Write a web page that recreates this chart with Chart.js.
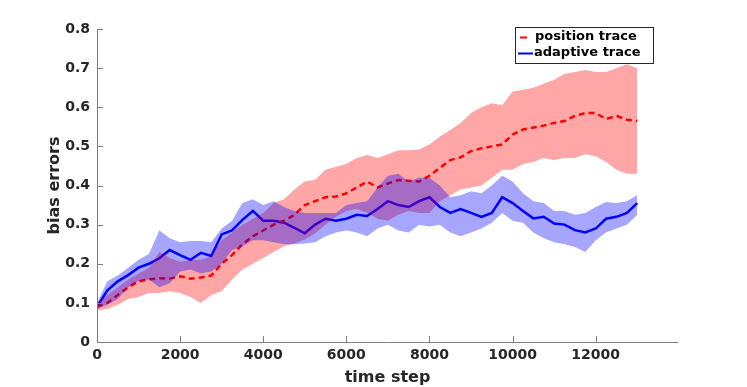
<!DOCTYPE html>
<html><head><meta charset="utf-8">
<script src="https://cdn.jsdelivr.net/npm/chart.js@4"></script>
<style>html,body{margin:0;padding:0;background:#fff;}#c{display:block;}</style>
</head><body>
<canvas id="c" width="747" height="387"></canvas>
<script>
const steps = [];
for (let i = 0; i <= 52; i++) steps.push(i * 250);

const adaptiveMean = [0.09,0.132,0.155,0.171,0.19,0.2,0.214,0.235,0.222,0.21,0.228,0.22,0.275,0.285,0.312,0.335,0.31,0.31,0.305,0.292,0.278,0.3,0.315,0.31,0.315,0.325,0.322,0.34,0.36,0.35,0.345,0.36,0.37,0.345,0.33,0.34,0.33,0.32,0.33,0.37,0.355,0.335,0.316,0.32,0.303,0.3,0.286,0.28,0.29,0.315,0.32,0.33,0.355];
const adaptiveUpper = [0.1,0.155,0.17,0.19,0.21,0.225,0.285,0.265,0.255,0.258,0.258,0.255,0.29,0.31,0.355,0.365,0.35,0.36,0.345,0.335,0.33,0.33,0.33,0.33,0.35,0.355,0.36,0.395,0.425,0.43,0.41,0.42,0.42,0.4,0.37,0.375,0.385,0.38,0.4,0.425,0.41,0.38,0.36,0.355,0.335,0.335,0.325,0.33,0.345,0.358,0.355,0.36,0.376];
const adaptiveLower = [0.085,0.095,0.11,0.14,0.155,0.16,0.14,0.15,0.18,0.185,0.175,0.18,0.2,0.235,0.245,0.26,0.26,0.255,0.25,0.25,0.252,0.255,0.27,0.28,0.285,0.28,0.27,0.29,0.3,0.285,0.28,0.3,0.295,0.3,0.28,0.27,0.28,0.29,0.305,0.33,0.31,0.305,0.28,0.265,0.255,0.25,0.243,0.23,0.26,0.28,0.29,0.3,0.325];

const positionMean = [0.09,0.1,0.12,0.14,0.155,0.16,0.163,0.162,0.168,0.162,0.165,0.17,0.2,0.222,0.25,0.27,0.285,0.3,0.31,0.325,0.35,0.36,0.37,0.372,0.38,0.395,0.41,0.395,0.405,0.414,0.412,0.41,0.425,0.445,0.465,0.472,0.488,0.495,0.5,0.505,0.53,0.543,0.548,0.553,0.56,0.565,0.578,0.585,0.585,0.57,0.578,0.568,0.565];
const positionUpper = [0.1,0.12,0.14,0.16,0.175,0.19,0.23,0.215,0.205,0.21,0.21,0.22,0.26,0.28,0.3,0.315,0.33,0.355,0.365,0.39,0.41,0.415,0.44,0.448,0.455,0.47,0.478,0.47,0.48,0.49,0.49,0.492,0.505,0.525,0.542,0.56,0.585,0.6,0.61,0.605,0.64,0.645,0.65,0.66,0.67,0.685,0.69,0.695,0.69,0.69,0.7,0.71,0.7];
const positionLower = [0.08,0.085,0.095,0.11,0.115,0.125,0.125,0.13,0.125,0.115,0.1,0.12,0.13,0.16,0.185,0.2,0.215,0.23,0.245,0.252,0.262,0.278,0.3,0.32,0.335,0.34,0.33,0.315,0.31,0.325,0.335,0.33,0.33,0.36,0.375,0.39,0.395,0.4,0.42,0.44,0.44,0.455,0.46,0.47,0.465,0.47,0.47,0.48,0.475,0.46,0.44,0.43,0.43];

const xTicks = [0,2000,4000,6000,8000,10000,12000];
const yTicks = [0,0.1,0.2,0.3,0.4,0.5,0.6,0.7,0.8];
const legendLabels = ['position trace','adaptive trace'];
const xTitle = 'time step';
const yTitle = 'bias errors';

const pts = arr => arr.map((v,i)=>({x:steps[i], y:v}));
const TXT = '#262626';
const AX = '#7f7f7f';
const FONT = "'DejaVu Sans', sans-serif";

const insideTicks = {
  id:'insideTicks',
  afterDraw(chart){
    const ctx = chart.ctx, a = chart.chartArea;
    const xs = chart.scales.x, ys = chart.scales.y;
    ctx.save();
    ctx.strokeStyle = AX; ctx.lineWidth = 1;
    ctx.beginPath();
    ctx.moveTo(a.left+0.5, a.top); ctx.lineTo(a.left+0.5, a.bottom+0.5);
    ctx.lineTo(a.right, a.bottom+0.5);
    xTicks.forEach(t=>{const p=Math.round(xs.getPixelForValue(t))+0.5; ctx.moveTo(p,a.bottom); ctx.lineTo(p,a.bottom-6);});
    yTicks.forEach(t=>{const p=Math.round(ys.getPixelForValue(t))+0.5; ctx.moveTo(a.left,p); ctx.lineTo(a.left+6,p);});
    ctx.stroke();
    // legend
    const bx=515, by=27, bw=138, bh=36;
    ctx.fillStyle='#fff'; ctx.fillRect(bx,by,bw,bh);
    ctx.strokeStyle='#262626'; ctx.lineWidth=1; ctx.strokeRect(bx+0.5,by+0.5,bw,bh);
    ctx.lineWidth=2;
    ctx.strokeStyle='#ff0000'; ctx.beginPath(); ctx.moveTo(520,37.5); ctx.lineTo(527,37.5); ctx.stroke();
    ctx.strokeStyle='#0000ff'; ctx.beginPath(); ctx.moveTo(518,53.5); ctx.lineTo(533,53.5); ctx.stroke();
    ctx.fillStyle='#000'; ctx.font="bold 13px "+FONT; ctx.textBaseline='middle'; ctx.textAlign='left';
    ctx.fillText(legendLabels[0],535,37);
    ctx.fillText(legendLabels[1],534,53);
    ctx.restore();
  }
};

new Chart(document.getElementById('c'), {
  type:'line',
  data:{datasets:[
    {data:pts(adaptiveLower), borderWidth:0, pointRadius:0, fill:false, borderColor:'rgba(0,0,0,0)'},
    {data:pts(adaptiveUpper), borderWidth:0, pointRadius:0, fill:'-1', borderColor:'rgba(0,0,0,0)', backgroundColor:'rgba(0,0,255,0.35)'},
    {data:pts(positionLower), borderWidth:0, pointRadius:0, fill:false, borderColor:'rgba(0,0,0,0)'},
    {data:pts(positionUpper), borderWidth:0, pointRadius:0, fill:'-1', borderColor:'rgba(0,0,0,0)', backgroundColor:'rgba(255,0,0,0.35)'},
    {label:legendLabels[0], data:pts(positionMean), borderColor:'#ff0000', borderWidth:2.5, borderDash:[6,4], pointRadius:0, fill:false},
    {label:legendLabels[1], data:pts(adaptiveMean), borderColor:'#0000ff', borderWidth:2.5, pointRadius:0, fill:false}
  ]},
  options:{
    responsive:false, animation:false,
    layout:{padding:{left:0,right:69,top:29,bottom:0}},
    plugins:{legend:{display:false}, tooltip:{enabled:false}},
    scales:{
      x:{type:'linear', min:0, max:13980,
        afterBuildTicks:s=>{s.ticks = xTicks.map(v=>({value:v}));},
        afterFit:s=>{s.height=45;},
        grid:{display:false, drawTicks:false}, border:{display:false},
        ticks:{color:TXT, font:{family:FONT, size:14, weight:'bold'}, padding:5, maxRotation:0, callback:v=>String(v)},
        title:{display:true, text:xTitle, color:TXT, font:{family:FONT, size:16, weight:'bold'}, padding:{top:0,bottom:0}}
      },
      y:{min:0, max:0.8,
        afterBuildTicks:s=>{s.ticks = yTicks.map(v=>({value:v}));},
        afterFit:s=>{s.width=97;},
        grid:{display:false, drawTicks:false}, border:{display:false},
        ticks:{color:TXT, font:{family:FONT, size:14, weight:'bold'}, padding:7, callback:v=>String(Math.round(v*10)/10)},
        title:{display:true, text:yTitle, color:TXT, font:{family:FONT, size:16, weight:'bold'}, padding:{top:45,bottom:0}}
      }
    }
  },
  plugins:[insideTicks]
});
</script>
</body></html>
